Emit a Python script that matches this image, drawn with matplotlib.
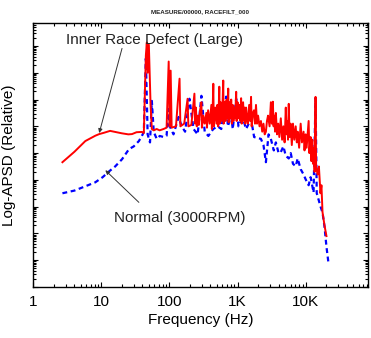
# Log-APSD spectrum: inner race defect vs normal bearing

import matplotlib
matplotlib.use('Agg')
import matplotlib.pyplot as plt
import numpy as np

# Inner race defect (large) - frequency (Hz) and log10 APSD
red_f = [2.7, 4.05, 5.85, 8.2, 9.35, 11, 13.5, 16, 20, 25,
         28.3, 33, 39.5, 42.2, 43.5, 45.2, 46.7, 48, 50, 53,
         55.3, 59, 65, 72, 82, 91, 97.7, 101, 104.4, 108,
         125, 141, 145, 165, 185, 190, 210, 233, 238, 245,
         252, 262, 270, 282, 295, 300, 315, 330, 349, 356,
         370, 390, 413, 420, 430, 441, 448, 470, 490, 505,
         520, 540, 548, 565, 580, 600, 617, 625, 650, 665,
         690, 710, 730, 740, 770, 790, 807, 825, 850, 870,
         892, 920, 955, 970, 1000, 1040, 1080, 1100, 1128, 1150,
         1180, 1206, 1240, 1270, 1300, 1334, 1380, 1420, 1480, 1530,
         1578, 1610, 1680, 1742, 1800, 1864, 1930, 2000, 2100, 2203,
         2300, 2400, 2500, 2605, 2700, 2800, 2950, 3081, 3180, 3296,
         3380, 3450, 3550, 3646, 3800, 3950, 4100, 4311, 4500, 4700,
         4900, 5097, 5250, 5400, 5500, 5635, 5800, 6000, 6250, 6500,
         6800, 7126, 7400, 7620, 8000, 8427, 8800, 9300, 9600, 9975,
         10300, 10600, 11030, 11300, 11790, 12100, 12500, 12800, 13030, 13500,
         13930, 14200, 14900, 15600, 16450, 17000, 17620, 18840, 20140]
red_v = [-4.34, -3.95, -3.55, -3.35, -3.29, -3.24, -3.17, -3.21, -3.26, -3.30,
         -3.29, -3.22, -3.21, -3.25, -1.95, -0.35, 0.13, -1.0, 0.05, -2.2,
         -3.10, -3.15, -3.10, -3.15, -3.10, -3.05, -0.58, -3.0, -0.92, -3.05,
         -3.0, -1.22, -3.0, -2.9, -1.97, -3.0, -2.95, -1.78, -2.9, -2.3,
         -3.0, -2.6, -2.95, -2.4, -2.1, -3.05, -2.6, -2.9, -2.5, -3.05,
         -2.4, -2.9, -2.2, -3.1, -2.5, -1.41, -3.0, -2.3, -2.9, -2.2,
         -3.0, -1.52, -2.9, -2.1, -2.8, -2.3, -1.29, -2.9, -2.1, -2.8,
         -2.0, -2.7, -1.59, -2.85, -2.1, -2.7, -2.0, -2.9, -2.2, -2.8,
         -2.3, -2.7, -1.71, -2.8, -2.1, -2.7, -2.2, -2.8, -1.95, -2.9,
         -2.2, -2.1, -2.8, -2.3, -2.9, -2.3, -2.7, -2.9, -2.2, -2.8,
         -1.90, -3.0, -2.5, -2.4, -2.9, -2.2, -2.9, -2.6, -3.0, -2.8,
         -3.2, -2.9, -3.3, -3.2, -2.8, -2.6, -3.0, -2.1, -2.9, -2.08,
         -3.0, -2.6, -3.2, -2.5, -3.3, -2.9, -3.4, -2.7, -3.5, -3.0,
         -3.6, -2.3, -3.3, -2.8, -3.5, -2.16, -3.4, -2.9, -3.7, -2.9,
         -3.5, -3.0, -3.6, -3.2, -3.8, -2.9, -3.6, -3.2, -3.9, -3.3,
         -3.8, -3.4, -2.8, -4.0, -3.4, -4.3, -3.5, -4.4, -3.8, -4.7,
         -1.9, -4.5, -4.8, -4.5, -5.5, -5.2, -6.2, -6.7, -7.1]

# Normal (3000 RPM)
blue_f = [2.7, 4.05, 5.85, 8.2, 10.5, 13.1, 16, 20.2, 25.6, 30, 35.7, 39.5, 42.2,
          45.2, 48, 52, 55.3, 59, 65.3, 72.2, 82.6, 91, 97.7, 101, 115, 136.6, 151,
          170, 197, 226, 260, 295, 330, 373, 440, 510, 577, 682, 720, 807, 850, 955,
          1030, 1128, 1206, 1334, 1578, 1750, 2203, 2400, 2605, 2850, 3081, 3400,
          3646, 4000, 4311, 4700, 5097, 5635, 6026, 6500, 7126, 7620, 8427, 9300,
          9975, 11030, 11790, 13030, 13930, 14500, 14900, 16450, 17620, 18840,
          20140, 21540]
blue_v = [-5.50, -5.40, -5.24, -5.09, -4.90, -4.68, -4.50, -4.23, -3.85, -3.75, -3.55,
          -3.36, -3.21, -0.47, -3.3, -3.6, -2.05, -3.21, -3.47, -3.36, -3.40, -3.35,
          -2.35, -2.99, -3.3, -2.65, -2.99, -3.2, -1.97, -3.10, -3.3, -1.86, -3.2,
          -3.36, -3.1, -3.0, -3.10, -1.89, -3.0, -2.61, -3.1, -1.97, -3.0, -2.8,
          -2.72, -3.1, -2.72, -3.4, -3.47, -3.7, -4.34, -3.3, -3.47, -3.9, -3.6,
          -4.0, -3.96, -3.75, -4.1, -4.2, -4.0, -4.4, -4.49, -4.2, -4.6, -4.8,
          -4.98, -5.2, -4.9, -5.47, -1.95, -5.5, -5.6, -5.99, -6.22, -6.74, -7.5,
          -8.1]

x_ticks = [1, 10, 100, 1000, 10000]
x_labels = ['1', '10', '100', '1K', '10K']

if __name__ == '__main__':
    plt.rcParams['font.family'] = ['Liberation Sans', 'DejaVu Sans']
    fig = plt.figure(figsize=(3.71, 3.38), dpi=100)
    ax = fig.add_axes([0.089, 0.151, 0.903, 0.781])

    ax.plot(blue_f, 10.0 ** np.array(blue_v), color='#0000ff', linewidth=1.6,
            linestyle=(0, (2.2, 1.6)), zorder=2)
    ax.plot(red_f, 10.0 ** np.array(red_v), color='#ff0000', linewidth=1.4, zorder=3)

    ax.set_xscale('log')
    ax.set_yscale('log')
    ax.set_xlim(1.1, 8.2e4)
    ax.set_ylim(1e-9, 10 ** 0.86)
    ax.set_xticks(x_ticks)
    ax.set_xticklabels(x_labels)
    ax.yaxis.set_major_locator(matplotlib.ticker.LogLocator(base=10, numticks=15))
    ax.yaxis.set_minor_locator(matplotlib.ticker.LogLocator(base=10, subs=np.arange(2, 10), numticks=15))
    ax.yaxis.set_major_formatter(matplotlib.ticker.NullFormatter())
    ax.yaxis.set_minor_formatter(matplotlib.ticker.NullFormatter())
    ax.tick_params(which='both', direction='in', top=True, right=True, width=0.8)
    ax.tick_params(which='major', length=3.5, labelsize=11, pad=6)
    ax.tick_params(which='minor', length=2)
    for s in ax.spines.values():
        s.set_linewidth(1.0)

    ax.set_xlabel('Frequency (Hz)', fontsize=11, labelpad=3)
    ax.set_ylabel('Log-APSD (Relative)', fontsize=11, labelpad=6)
    fig.text(0.54, 0.965, 'MEASURE/00000, RACEFILT_000', fontsize=4.5,
             fontweight='bold', ha='center', va='center', color='#222222')

    # annotations
    ax.text(3.0, 10 ** 0.21, 'Inner Race Defect (Large)', fontsize=11,
            ha='left', va='center', color='#222222')
    ax.annotate('', xy=(9.35, 10 ** -3.25), xytext=(20.2, 10 ** -0.09),
                arrowprops=dict(arrowstyle='-|>', color='#333333', lw=0.7,
                                mutation_scale=6, shrinkA=0, shrinkB=0))
    ax.text(15.5, 10 ** -6.41, 'Normal (3000RPM)', fontsize=11,
            ha='left', va='center', color='#222222')
    ax.annotate('', xy=(11.5, 10 ** -4.64), xytext=(35.7, 10 ** -5.84),
                arrowprops=dict(arrowstyle='-|>', color='#333333', lw=0.7,
                                mutation_scale=6, shrinkA=0, shrinkB=0))

    plt.savefig('out.png', dpi=100)
